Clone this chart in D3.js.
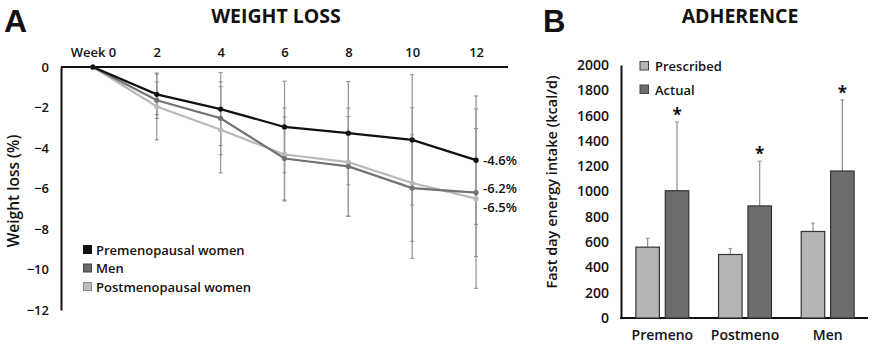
<!DOCTYPE html>
<html><head><meta charset="utf-8">
<script src="https://cdn.jsdelivr.net/npm/d3@7"></script>
<style>
html,body{margin:0;padding:0;background:#fff;}
svg text{font-family:"Open Sans",sans-serif;fill:#111;}
</style></head>
<body><svg id="c" width="875" height="345"></svg>
<script>
// ---------- Panel A data ----------
const weeks = ["Week 0","2","4","6","8","10","12"];
const premenoMean = [0,-1.35,-2.08,-2.96,-3.27,-3.6,-4.6];
const premenoSD   = [0,1.0,1.8,2.26,2.55,3.22,3.17];
const menMean     = [0,-1.64,-2.53,-4.52,-4.91,-5.98,-6.2];
const menSD       = [0,0.9,1.8,2.05,2.46,2.63,3.16];
const postMean    = [0,-1.95,-3.1,-4.32,-4.7,-5.73,-6.5];
const postSD      = [0,1.65,2.13,2.3,2.67,3.72,4.43];
const seriesNames = ["Premenopausal women","Men","Postmenopausal women"];
const endLabels   = ["-4.6%","-6.2%","-6.5%"];
const yTicksA     = [0,-2,-4,-6,-8,-10,-12];

// ---------- Panel B data ----------
const groups = ["Premeno","Postmeno","Men"];
const barSeries = ["Prescribed","Actual"];
const prescribed   = [560,502,684];
const prescribedSD = [70,48,66];
const actual       = [1006,886,1162];
const actualSD     = [544,354,562];
const yTicksB = [0,200,400,600,800,1000,1200,1400,1600,1800,2000];

const svg = d3.select("#c");

// ================= Panel A =================
const xA = d3.scalePoint().domain(weeks).range([61,508]).padding(0.5);
const yA = d3.scaleLinear().domain([-12,0]).range([310,67]);
const A = svg.append("g");

A.append("text").attr("x",4).attr("y",32).attr("font-size",32).attr("font-weight",700)
  .style("font-family","'Liberation Sans',Arial,sans-serif").text("A");
A.append("text").attr("x",276).attr("y",23).attr("text-anchor","middle").attr("font-size",19.5).attr("font-weight",700).text("WEIGHT LOSS");

// axes
const axY = A.append("g").attr("transform","translate(61,0)")
  .call(d3.axisLeft(yA).tickValues(yTicksA).tickSize(0).tickPadding(12).tickFormat(d3.format("d")));
axY.select(".domain").attr("stroke","#111").attr("stroke-width",2);
axY.selectAll("text").attr("font-size",13).attr("font-weight",600).style("font-family","Open Sans");
const axX = A.append("g").attr("transform","translate(0,67)")
  .call(d3.axisTop(xA).tickSize(0).tickPadding(10));
axX.select(".domain").attr("stroke","#111").attr("stroke-width",2).attr("d","M61,0H508");
axX.selectAll("text").attr("font-size",13).attr("font-weight",600).style("font-family","Open Sans");

A.append("text").attr("transform","translate(19,191) rotate(-90)").attr("text-anchor","middle")
  .attr("font-size",15.5).attr("font-weight",600).text("Weight loss (%)");

const series = [
  {name:seriesNames[2], mean:postMean, sd:postSD, color:"#b9b9b9", lab:endLabels[2]},
  {name:seriesNames[1], mean:menMean, sd:menSD, color:"#727272", lab:endLabels[1]},
  {name:seriesNames[0], mean:premenoMean, sd:premenoSD, color:"#111111", lab:endLabels[0]}
];

// error bars
series.forEach(s=>{
  weeks.forEach((w,i)=>{
    if(s.sd[i]===0) return;
    const x = xA(w), y1 = yA(s.mean[i]+s.sd[i]), y2 = yA(s.mean[i]-s.sd[i]);
    A.append("line").attr("x1",x).attr("x2",x).attr("y1",y1).attr("y2",y2).attr("stroke","#9a9a9a").attr("stroke-width",1.3);
    [y1,y2].forEach(yy=>A.append("line").attr("x1",x-2).attr("x2",x+2).attr("y1",yy).attr("y2",yy).attr("stroke","#8a8a8a").attr("stroke-width",1));
  });
});
// lines
const line = d3.line().x((d,i)=>xA(weeks[i])).y(d=>yA(d));
series.forEach(s=>{
  A.append("path").attr("d",line(s.mean)).attr("fill","none").attr("stroke",s.color).attr("stroke-width",2.2);
  A.selectAll(null).data(s.mean).enter().append("circle")
    .attr("cx",(d,i)=>xA(weeks[i])).attr("cy",d=>yA(d)).attr("r",2.6).attr("fill",s.color);
});
// end labels
const endOffsets = {"-4.6%":0,"-6.2%":-4,"-6.5%":9};
series.forEach(s=>{
  const last = s.mean[s.mean.length-1];
  A.append("text").attr("x",xA(weeks[weeks.length-1])+7).attr("y",yA(last)+endOffsets[s.lab]+4.5)
    .attr("font-size",13).attr("font-weight",600).text(s.lab);
});
// legend
const legA = [series[2],series[1],series[0]];
const legColors = {"Premenopausal women":["#111","#111"],"Men":["#6a6a6a","#444"],"Postmenopausal women":["#bdbdbd","#888"]};
legA.forEach((s,i)=>{
  const y = 250 + i*18.5;
  A.append("rect").attr("x",83.5).attr("y",y-4.5).attr("width",8).attr("height",8)
    .attr("fill",legColors[s.name][0]).attr("stroke",legColors[s.name][1]).attr("stroke-width",1);
  A.append("text").attr("x",96).attr("y",y+4.5).attr("font-size",13).attr("font-weight",600).text(s.name);
});

// ================= Panel B =================
const x0 = d3.scaleBand().domain(groups).range([621,869]).paddingInner(0.36).paddingOuter(0.18);
const x1 = d3.scaleBand().domain(barSeries).range([0,x0.bandwidth()]).paddingInner(0.2);
const yB = d3.scaleLinear().domain([0,2000]).range([318,65]);
const B = svg.append("g");

B.append("text").attr("x",543).attr("y",32).attr("font-size",31).attr("font-weight",700)
  .style("font-family","'Liberation Sans',Arial,sans-serif").text("B");
B.append("text").attr("x",740).attr("y",23).attr("text-anchor","middle").attr("font-size",19.5).attr("font-weight",700).text("ADHERENCE");

const ayB = B.append("g").attr("transform","translate(621,0)")
  .call(d3.axisLeft(yB).tickValues(yTicksB).tickSize(0).tickPadding(12).tickFormat(d3.format("d")));
ayB.select(".domain").attr("stroke","#111").attr("stroke-width",2);
ayB.selectAll("text").attr("font-size",14).attr("font-weight",600).style("font-family","Open Sans");
const axB = B.append("g").attr("transform","translate(0,318)")
  .call(d3.axisBottom(x0).tickSize(0).tickPadding(12));
axB.select(".domain").attr("stroke","#111").attr("stroke-width",2).attr("d","M620,0H868");
axB.selectAll("text").attr("font-size",14).attr("font-weight",600).style("font-family","Open Sans");

B.append("text").attr("transform","translate(557,182) rotate(-90)").attr("text-anchor","middle")
  .attr("font-size",14.5).attr("font-weight",600).text("Fast day energy intake (kcal/d)");

const barData = [
  {s:"Prescribed", vals:prescribed, sd:prescribedSD, fill:"#b5b5b5", star:false},
  {s:"Actual", vals:actual, sd:actualSD, fill:"#6d6d6d", star:true}
];
barData.forEach(b=>{
  groups.forEach((g,i)=>{
    const x = x0(g)+x1(b.s), w = x1.bandwidth(), cx = x+w/2;
    const top = yB(b.vals[i]+b.sd[i]);
    B.append("line").attr("x1",cx).attr("x2",cx).attr("y1",yB(b.vals[i])).attr("y2",top).attr("stroke","#8f8f8f").attr("stroke-width",1.2);
    B.append("line").attr("x1",cx-2).attr("x2",cx+2).attr("y1",top).attr("y2",top).attr("stroke","#8f8f8f").attr("stroke-width",1);
    B.append("rect").attr("x",x).attr("y",yB(b.vals[i])).attr("width",w).attr("height",yB(0)-yB(b.vals[i]))
      .attr("fill",b.fill).attr("stroke","#333").attr("stroke-width",1.2);
    if(b.star){
      B.append("text").attr("x",cx).attr("y",top-1).attr("text-anchor","middle").attr("font-size",17).attr("font-weight",700).text("*");
    }
  });
});
// legend B
barData.forEach((b,i)=>{
  const y = 66 + i*23.5;
  B.append("rect").attr("x",640).attr("y",y-4.5).attr("width",8.5).attr("height",8.5).attr("fill",b.fill).attr("stroke","#444").attr("stroke-width",1);
  B.append("text").attr("x",655).attr("y",y+5).attr("font-size",13).attr("font-weight",600).text(b.s);
});
</script></body></html>
